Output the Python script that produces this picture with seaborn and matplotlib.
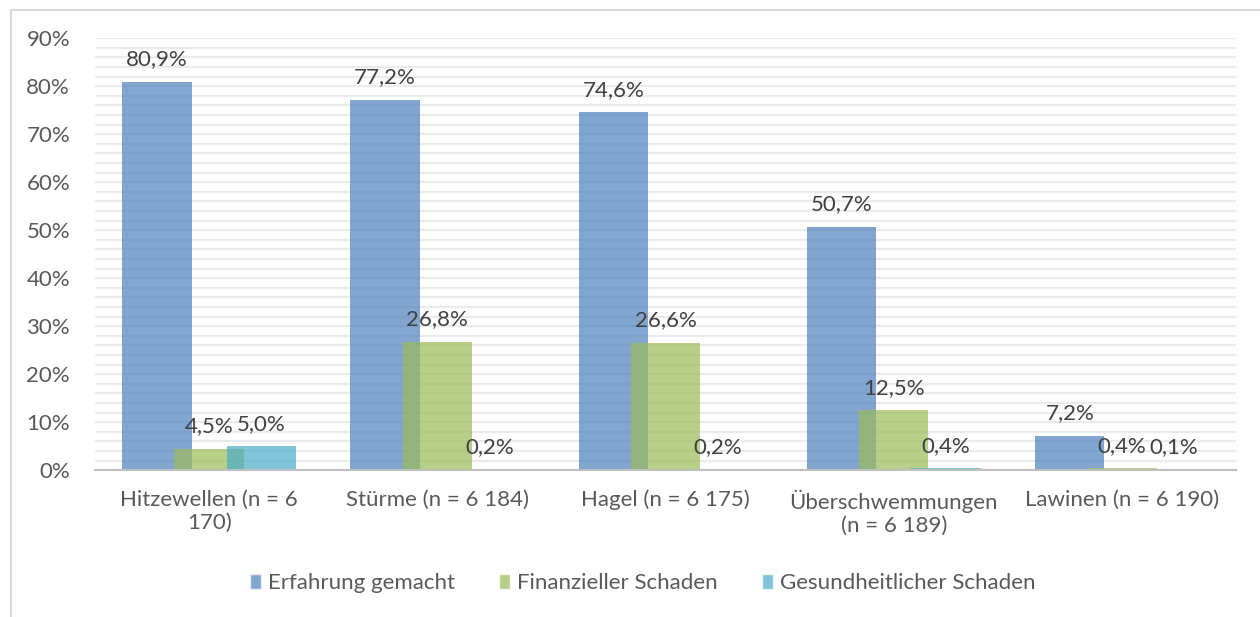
import matplotlib
matplotlib.use("Agg")
import matplotlib.pyplot as plt
from matplotlib.lines import Line2D
from matplotlib.ticker import MultipleLocator, FuncFormatter
import seaborn as sns
import pandas as pd

categories = ["Hitzewellen (n = 6\n170)", "Stürme (n = 6 184)", "Hagel (n = 6 175)",
              "Überschwemmungen\n(n = 6 189)", "Lawinen (n = 6 190)"]
series = ["Erfahrung gemacht", "Finanzieller Schaden", "Gesundheitlicher Schaden"]
erfahrung = [80.9, 77.2, 74.6, 50.7, 7.2]
finanziell = [4.5, 26.8, 26.6, 12.5, 0.4]
gesundheit = [5.0, 0.2, 0.2, 0.4, 0.1]
colors = ["#4F81BD", "#9BBB59", "#4BACC6"]

rows = []
for name, vals in zip(series, [erfahrung, finanziell, gesundheit]):
    for cat, v in zip(categories, vals):
        rows.append({"cat": cat, "serie": name, "wert": v})
df = pd.DataFrame(rows)

sns.set_style("white")
plt.rcParams["font.family"] = ["Lato", "DejaVu Sans"]
fs = 16

fig = plt.figure(figsize=(12.6, 6.17), dpi=100)
ax = fig.add_axes([0.0754, 0.238, 0.9056, 0.700])

sns.barplot(data=df, x="cat", y="wert", hue="serie", palette=colors, saturation=1,
            alpha=0.7, ax=ax, legend=True)

# Excel-style overlapping bars
bar_w = 0.304
step = 0.229
for i, cont in enumerate(ax.containers):
    for j, bar in enumerate(cont):
        bar.set_width(bar_w)
        bar.set_x(j + (i - 1) * step - bar_w / 2)
        bar.set_edgecolor("none")
    vals = [erfahrung, finanziell, gesundheit][i]
    ax.bar_label(cont, labels=[f"{v:.1f}%".replace(".", ",") for v in vals],
                 padding=9, fontsize=fs, color="#404040")

ax.set_xlim(-0.5, 4.5)
ax.set_ylim(0, 90)
ax.yaxis.set_major_locator(MultipleLocator(10))
ax.yaxis.set_minor_locator(MultipleLocator(2))
ax.yaxis.set_major_formatter(FuncFormatter(lambda v, p: f"{v:.0f}%"))
ax.grid(axis="y", which="both", color="#EBEBEB", linewidth=1.6)
ax.set_axisbelow(True)
for s in ["top", "right", "left"]:
    ax.spines[s].set_visible(False)
ax.spines["bottom"].set_color("#BFBFBF")
ax.spines["bottom"].set_linewidth(1.5)
ax.tick_params(axis="both", length=0, labelsize=fs, labelcolor="#595959")
ax.tick_params(axis="y", pad=18)
ax.tick_params(axis="x", pad=14)
ax.set_xlabel("")
ax.set_ylabel("")

handles, labels = ax.get_legend_handles_labels()
ax.legend_.remove()
fig.legend(handles, labels, loc="center", bbox_to_anchor=(0.51, 0.055), ncol=3,
           frameon=False, fontsize=fs, labelcolor="#595959", handlelength=0.5,
           handleheight=0.7, handletextpad=0.3, columnspacing=2.0)

# outer chart border (top and left visible)
fig.add_artist(Line2D([11 / 1260, 1.0], [1 - 10 / 617] * 2, color="#D9D9D9", linewidth=1.5))
fig.add_artist(Line2D([11 / 1260] * 2, [0.0, 1 - 10 / 617], color="#D9D9D9", linewidth=1.5))

fig.savefig("out.png", dpi=100)
